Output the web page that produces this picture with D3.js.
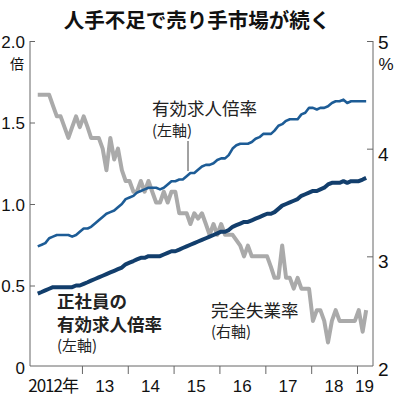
<!DOCTYPE html>
<html>
<head>
<meta charset="utf-8">
<script src="https://cdn.jsdelivr.net/npm/d3@7"></script>
<style>
  body { margin: 0; background: #fff; }
  svg { display: block; }
  .jp { font-family: "Noto Sans CJK JP", "Noto Sans", sans-serif; }
  .num { font-family: "Liberation Sans Narrow", "Liberation Sans", Arial, sans-serif; }
</style>
</head>
<body>
<svg id="chart"></svg>
<script>
// 人手不足で売り手市場が続く (monthly, 2012/1 - 2019/3)

const startMonth = new Date(2012, 0, 15);

// 有効求人倍率 (left axis, 倍)
const jobsRatio = [
  0.74, 0.75, 0.76, 0.79, 0.80, 0.81, 0.81, 0.81, 0.81, 0.80, 0.81, 0.83,
  0.85, 0.85, 0.86, 0.88, 0.90, 0.92, 0.94, 0.95, 0.96, 0.98, 1.00, 1.03,
  1.04, 1.05, 1.07, 1.08, 1.09, 1.10, 1.10, 1.10, 1.09, 1.10, 1.12, 1.14,
  1.14, 1.15, 1.15, 1.17, 1.19, 1.19, 1.21, 1.23, 1.24, 1.24, 1.25, 1.27,
  1.28, 1.28, 1.30, 1.34, 1.36, 1.37, 1.37, 1.37, 1.38, 1.40, 1.41, 1.43,
  1.43, 1.43, 1.45, 1.48, 1.49, 1.51, 1.52, 1.52, 1.52, 1.55, 1.56, 1.59,
  1.59, 1.58, 1.59, 1.59, 1.60, 1.62, 1.63, 1.63, 1.64, 1.62, 1.63, 1.63,
  1.63, 1.63, 1.63
];

// 正社員の有効求人倍率 (left axis, 倍)
const regularRatio = [
  0.45, 0.46, 0.47, 0.48, 0.49, 0.49, 0.49, 0.49, 0.49, 0.49, 0.50, 0.50,
  0.51, 0.52, 0.53, 0.54, 0.55, 0.56, 0.57, 0.58, 0.59, 0.60, 0.61, 0.63,
  0.64, 0.65, 0.66, 0.67, 0.67, 0.68, 0.68, 0.68, 0.68, 0.69, 0.70, 0.71,
  0.71, 0.72, 0.73, 0.74, 0.75, 0.76, 0.77, 0.78, 0.79, 0.80, 0.81, 0.82,
  0.83, 0.83, 0.84, 0.86, 0.87, 0.88, 0.89, 0.89, 0.90, 0.91, 0.92, 0.93,
  0.94, 0.94, 0.95, 0.97, 0.99, 1.00, 1.01, 1.02, 1.03, 1.05, 1.06, 1.07,
  1.08, 1.08, 1.09, 1.10, 1.12, 1.13, 1.13, 1.13, 1.14, 1.13, 1.14, 1.14,
  1.14, 1.15, 1.16
];

// 完全失業率 (right axis, %)
const unemployment = [
  4.5, 4.5, 4.5, 4.5, 4.4, 4.3, 4.3, 4.2, 4.1, 4.2, 4.3, 4.2,
  4.3, 4.2, 4.1, 4.1, 4.1, 4.0, 3.8, 4.1, 3.9, 4.0, 3.8, 3.7,
  3.7, 3.6, 3.6, 3.7, 3.6, 3.7, 3.6, 3.5, 3.5, 3.6, 3.5, 3.6,
  3.6, 3.4, 3.4, 3.4, 3.3, 3.4, 3.35, 3.4, 3.3, 3.2, 3.3, 3.2,
  3.3, 3.2, 3.2, 3.2, 3.15, 3.1, 3.0, 3.1, 3.0, 3.0, 3.0, 3.0,
  3.0, 2.9, 2.8, 2.8, 3.1, 2.8, 2.8, 2.7, 2.8, 2.7, 2.7, 2.7,
  2.4, 2.5, 2.5, 2.4, 2.2, 2.4, 2.5, 2.4, 2.4, 2.4, 2.4, 2.4,
  2.5, 2.3, 2.5
];

const leftTicks = [0, 0.5, 1.0, 1.5, 2.0];
const rightTicks = [2, 3, 4, 5];
const yearTicks = [2013, 2014, 2015, 2016, 2017, 2018, 2019];
const yearLabels = ["2012年", "13", "14", "15", "16", "17", "18", "19"];

const width = 400;
const height = 402;

const svg = d3.select("#chart")
  .attr("width", width)
  .attr("height", height);

const months = jobsRatio.map((d, i) => d3.timeMonth.offset(startMonth, i));

const x = d3.scaleTime()
  .domain([new Date(2012, 0, 1), new Date(2019, 0, 1)])
  .range([36, 357]);

const yL = d3.scaleLinear().domain([0, 2]).range([367, 41]);
const yR = d3.scaleLinear().domain([2, 5]).range([364, 41]);

const plotLeft = 30, plotRight = 373, plotBottom = 366;

// title
svg.append("text")
  .attr("class", "jp")
  .attr("x", 197)
  .attr("y", 28)
  .attr("text-anchor", "middle")
  .attr("font-size", 20.5)
  .attr("font-weight", "bold")
  .attr("fill", "#111")
  .text("人手不足で売り手市場が続く");

// left axis
const leftAxis = svg.append("g")
  .attr("transform", `translate(${plotLeft},0)`)
  .call(d3.axisLeft(yL)
    .tickValues(leftTicks)
    .tickSizeInner(-5)
    .tickSizeOuter(0)
    .tickPadding(5)
    .tickFormat(d => d === 0 ? "0" : d3.format(".1f")(d)));
leftAxis.select(".domain").attr("stroke", "#666").attr("d", `M0,41V${plotBottom}`);
leftAxis.selectAll(".tick line").attr("stroke", "#666");
leftAxis.selectAll(".tick text")
  .attr("class", "num")
  .attr("font-size", 17)
  .attr("fill", "#111")
  .attr("dy", "0.36em");
leftAxis.selectAll(".tick").filter(d => d === 0).select("line").remove();

svg.append("text")
  .attr("class", "jp")
  .attr("x", 17)
  .attr("y", 69)
  .attr("text-anchor", "middle")
  .attr("font-size", 14)
  .attr("fill", "#111")
  .text("倍");

// right axis
const rightAxis = svg.append("g")
  .attr("transform", `translate(${plotRight},0)`)
  .call(d3.axisRight(yR)
    .tickValues(rightTicks)
    .tickSizeInner(-6)
    .tickSizeOuter(0)
    .tickPadding(5)
    .tickFormat(d3.format("d")));
rightAxis.select(".domain").attr("stroke", "#666").attr("d", `M0,41V${plotBottom}`);
rightAxis.selectAll(".tick line").attr("stroke", "#666");
rightAxis.selectAll(".tick text")
  .attr("class", "num")
  .attr("font-size", 19)
  .attr("fill", "#111")
  .attr("dy", d => d === 5 ? "0.4em" : "0.6em");
rightAxis.selectAll(".tick").filter(d => d === 2).select("line").remove();

svg.append("text")
  .attr("class", "num")
  .attr("x", 386)
  .attr("y", 70)
  .attr("text-anchor", "middle")
  .attr("font-size", 17)
  .attr("fill", "#111")
  .text("%");

// bottom axis: year separators
const bottomAxis = svg.append("g")
  .attr("transform", `translate(0,${plotBottom})`)
  .call(d3.axisBottom(x)
    .tickValues(yearTicks.map(yr => new Date(yr, 0, 1)))
    .tickSizeInner(8)
    .tickSizeOuter(0)
    .tickFormat(""));
bottomAxis.select(".domain").attr("stroke", "#666").attr("d", `M${plotLeft},0H${plotRight}`);
bottomAxis.selectAll(".tick line").attr("stroke", "#666");

// year labels
const labelDates = yearLabels.map((l, i) => i === yearLabels.length - 1
  ? new Date(2019, 2, 1)
  : new Date(2012 + i, 6, 1));

svg.append("g")
  .selectAll("text")
  .data(yearLabels)
  .join("text")
  .attr("class", (d, i) => i === 0 ? "jp" : "num")
  .attr("x", (d, i) => i === 0 ? 78 : x(labelDates[i]))
  .attr("y", 392)
  .attr("text-anchor", (d, i) => i === 0 ? "end" : "middle")
  .attr("font-size", 17)
  .attr("fill", "#111")
  .attr("letter-spacing", (d, i) => i === 0 ? -1 : 0)
  .text(d => d);

// lines
const lineL = d3.line()
  .x((d, i) => x(months[i]))
  .y(d => yL(d));
const lineR = d3.line()
  .x((d, i) => x(months[i]))
  .y(d => yR(d));

svg.append("path")
  .datum(unemployment)
  .attr("d", lineR)
  .attr("fill", "none")
  .attr("stroke", "#aaaaaa")
  .attr("stroke-width", 4)
  .attr("stroke-linejoin", "round");

svg.append("path")
  .datum(jobsRatio)
  .attr("d", lineL)
  .attr("fill", "none")
  .attr("stroke", "#1d5c96")
  .attr("stroke-width", 2.6)
  .attr("stroke-linejoin", "round");

svg.append("path")
  .datum(regularRatio)
  .attr("d", lineL)
  .attr("fill", "none")
  .attr("stroke", "#123e6c")
  .attr("stroke-width", 4)
  .attr("stroke-linejoin", "round");

// annotations
const leaderX = 188;
const leaderIdx = d3.bisector(d => d).left(months, x.invert(leaderX));
svg.append("line")
  .attr("x1", leaderX).attr("x2", leaderX)
  .attr("y1", 141).attr("y2", yL(jobsRatio[leaderIdx]) - 2)
  .attr("stroke", "#444")
  .attr("stroke-width", 1);

function note(text, x0, y0, size, weight) {
  svg.append("text")
    .attr("class", "jp")
    .attr("x", x0)
    .attr("y", y0)
    .attr("font-size", size)
    .attr("font-weight", weight)
    .attr("fill", "#222")
    .text(text);
}

note("有効求人倍率", 152, 115, 17.5, "normal");
note("(左軸)", 152, 136, 15, "normal");
note("正社員の", 57, 308, 17.5, "bold");
note("有効求人倍率", 57, 331, 17.5, "bold");
note("(左軸)", 57, 351, 15, "normal");
note("完全失業率", 211, 317, 17.5, "normal");
note("(右軸)", 211, 337, 15, "normal");
</script>
</body>
</html>
